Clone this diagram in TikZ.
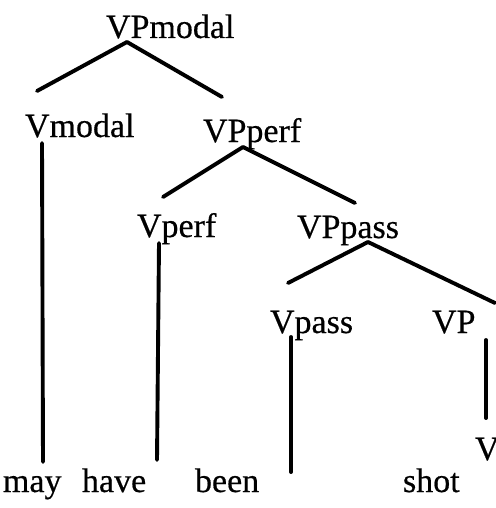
\documentclass[tikz,border=0pt]{standalone}
\usepackage{fontspec}
\setmainfont{Liberation Serif}
\newfontfamily\lblfont[FakeBold=0.5]{Liberation Serif}
\usetikzlibrary{calc}
\begin{document}
\begin{tikzpicture}[x=1pt,y=-1pt,
  lbl/.style={inner sep=0pt,outer sep=0pt,anchor=base west,font=\lblfont\fontsize{34}{40}\selectfont},
  edge/.style={line width=3.9pt,line cap=round}]
\useasboundingbox (0,0) rectangle (495,508);
\node[lbl] (VPmodal) at (106,38) {VPmodal};
\node[lbl] (Vmodal) at (25,137) {Vmodal};
\node[lbl] (VPperf) at (203,142) {VPperf};
\node[lbl] (Vperf) at (137,237) {Vperf};
\node[lbl] (VPpass) at (297,238) {VPpass};
\node[lbl] (Vpass) at (270,333) {Vpass};
\node[lbl] (VP) at (432,333) {VP};
\node[lbl] (V) at (475,460) {V};
\node[lbl] (may) at (3,492) {may};
\node[lbl] (have) at (82,492) {have};
\node[lbl] (been) at (195,492) {been};
\node[lbl] (shot) at (403,492) {shot};
% edges
\draw[edge] ($(VPmodal.base west)+(21,4)$) -- ($(Vmodal.base west)+(12,-46)$);
\draw[edge] ($(VPmodal.base west)+(21,4)$) -- ($(VPperf.base west)+(19,-45)$);
\draw[edge] ($(Vmodal.base west)+(17,6)$) -- ($(may.base west)+(40,-30)$);
\draw[edge] ($(VPperf.base west)+(40,5)$) -- ($(Vperf.base west)+(26,-40)$);
\draw[edge] ($(VPperf.base west)+(40,5)$) -- ($(VPpass.base west)+(58,-35)$);
\draw[edge] ($(Vperf.base west)+(22,6)$) -- ($(have.base west)+(75,-32)$);
\draw[edge] ($(VPpass.base west)+(71,4)$) -- ($(Vpass.base west)+(18,-50)$);
\draw[edge] ($(VPpass.base west)+(71,4)$) -- ($(VP.base west)+(63,-30)$);
\draw[edge] ($(Vpass.base west)+(21,4)$) -- ($(been.base west)+(96,-20)$);
\draw[edge] ($(VP.base west)+(54,7)$) -- ($(V.base west)+(11,-42)$);
\end{tikzpicture}
\end{document}
